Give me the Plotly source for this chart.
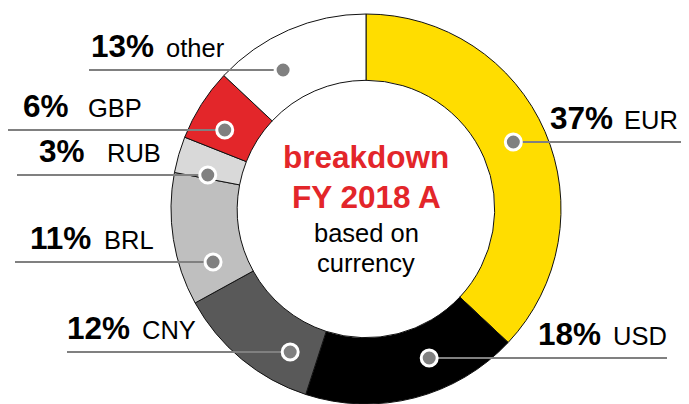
import numpy as np
import plotly.graph_objects as go

# data
currencies = ["EUR", "USD", "CNY", "BRL", "RUB", "GBP", "other"]
shares = [37, 18, 12, 11, 3, 6, 13]
slice_colors = ["#FFDD00", "#000000", "#595959", "#BFBFBF", "#D9D9D9", "#E3262A", "#FFFFFF"]

# label layout (window pixels, y from top)
line_y = [142, 358, 352, 262, 175, 130, 70]
line_end_x = [681, 667, 67, 15, 17, 8, 89]
pct_x = [548, 536, 65, 28, 37, 21, 89]
name_x = [622, 611, 140, 102, 105, 86, 164]

W, H = 689, 404
OFF = 8  # default body margin of the html page
PW, PH = W - 2 * OFF, H - OFF
CX, CY, R_OUT = 366, 209, 195
HOLE = 0.66
R_MID = R_OUT * (1 + HOLE) / 2

BOLD = 31.5
REG = 25.5
GRAY = "#808080"
RED = "#E3262A"
FONT = "Liberation Sans, Arial"

fig = go.Figure()
fig.add_trace(
    go.Pie(
        labels=currencies,
        values=shares,
        sort=False,
        direction="clockwise",
        rotation=0,
        hole=HOLE,
        marker=dict(colors=slice_colors, line=dict(color="#111111", width=1)),
        textinfo="none",
        hoverinfo="label+percent",
        showlegend=False,
        domain=dict(
            x=[(CX - OFF - R_OUT) / PW, (CX - OFF + R_OUT) / PW],
            y=[max(0, (H - CY - R_OUT) / PH), (H - CY + R_OUT) / PH],
        ),
    )
)

# side of each slice from the cumulative share
cum = np.cumsum([0] + shares[:-1])
mid_angle = (cum + np.array(shares) / 2) / sum(shares) * 360
side = np.where(mid_angle < 180, 1, -1)

for i, name in enumerate(currencies):
    dy = line_y[i] - CY
    mx = CX + side[i] * np.sqrt(R_MID**2 - dy**2)
    fig.add_shape(
        type="line", xref="x", yref="y", layer="above",
        x0=line_end_x[i], x1=mx, y0=line_y[i], y1=line_y[i],
        line=dict(color=GRAY, width=2),
    )
    fig.add_shape(
        type="circle", xref="x", yref="y", layer="above",
        x0=mx - 8, x1=mx + 8, y0=line_y[i] - 8, y1=line_y[i] + 8,
        fillcolor=GRAY, line=dict(color="white", width=3),
    )
    fig.add_annotation(
        x=pct_x[i], y=line_y[i] - 4, xref="x", yref="y",
        text=f"<b>{shares[i]}%</b>", showarrow=False,
        xanchor="left", yanchor="bottom",
        font=dict(size=BOLD, color="black", family=FONT),
    )
    fig.add_annotation(
        x=name_x[i], y=line_y[i] - 6, xref="x", yref="y",
        text=name, showarrow=False,
        xanchor="left", yanchor="bottom",
        font=dict(size=REG, color="black", family=FONT),
    )

center_lines = [
    ("<b>breakdown</b>", 157, BOLD, RED),
    ("<b>FY 2018 A</b>", 197, BOLD, RED),
    ("based on", 233, REG, "black"),
    ("currency", 263, REG, "black"),
]
for text, y, size, color in center_lines:
    fig.add_annotation(
        x=CX, y=y, xref="x", yref="y", text=text, showarrow=False,
        xanchor="center", yanchor="middle",
        font=dict(size=size, color=color, family=FONT),
    )

fig.update_xaxes(range=[OFF, W - OFF], visible=False, fixedrange=True)
fig.update_yaxes(range=[H, OFF], visible=False, fixedrange=True)
fig.update_layout(
    width=PW,
    height=PH,
    margin=dict(l=0, r=0, t=0, b=0),
    plot_bgcolor="white",
    paper_bgcolor="white",
    font=dict(family=FONT),
)
fig.write_html("out.html")
